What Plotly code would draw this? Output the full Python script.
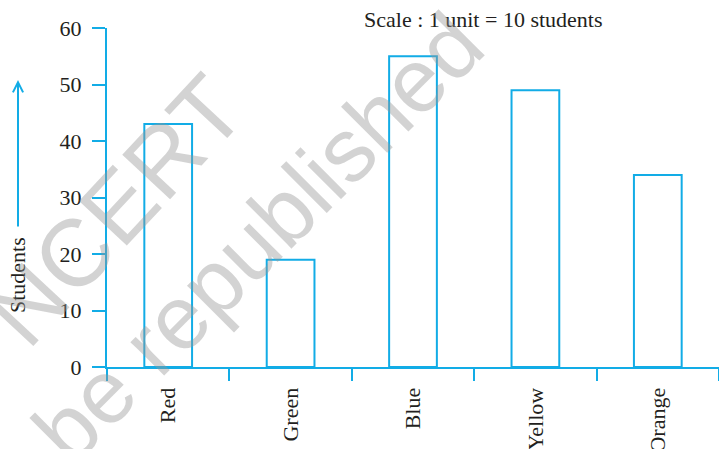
import plotly.graph_objects as go

colours = ["Red", "Green", "Blue", "Yellow", "Orange"]
students = [43, 19, 55, 49, 34]
y_ticks = [0, 10, 20, 30, 40, 50, 60]

BLUE = "#12ACE6"
SERIF = "Liberation Serif, Times New Roman, serif"
SANS = "Liberation Sans, Arial, sans-serif"
INK = "#231f20"

fig = go.Figure()
fig.add_trace(go.Bar(
    x=colours, y=students, width=0.39,
    marker=dict(color="white", line=dict(color=BLUE, width=2)),
    hoverinfo="x+y",
))

W, H = 719, 449
L, R, T, B = 107, 0, 28, 82
pw, ph = W - L - R, H - T - B

def px(xp):
    return (xp - L) / pw

def py(yp):
    return (H - B - yp) / ph

fig.update_layout(
    width=W, height=H,
    margin=dict(l=L, r=R, t=T, b=B, autoexpand=False),
    paper_bgcolor="white", plot_bgcolor="white",
    showlegend=False,
    font=dict(family=SERIF, color=INK),
    xaxis=dict(
        type="category", range=[-0.5, 4.5], automargin=False,
        showline=True, linecolor=BLUE, linewidth=2,
        ticks="outside", tickson="boundaries", ticklen=12, tickwidth=2, tickcolor=BLUE,
        tickangle=-90, tickfont=dict(family=SERIF, size=22, color=INK),
        ticklabelstandoff=10,
        showgrid=False, zeroline=False, fixedrange=True,
    ),
    yaxis=dict(
        range=[0, 60], tickvals=y_ticks, automargin=False,
        showline=True, linecolor=BLUE, linewidth=2,
        ticks="outside", ticklen=13, tickwidth=2, tickcolor=BLUE,
        tickfont=dict(family=SERIF, size=22, color=INK),
        ticklabelstandoff=6,
        showgrid=False, zeroline=False, fixedrange=True,
    ),
)

WM = "rgba(150,150,150,0.42)"
annotations = [
    dict(text="Scale : 1 unit = 10 students", xref="paper", yref="paper",
         x=px(483), y=py(20), xanchor="center", yanchor="middle", showarrow=False,
         font=dict(family=SERIF, size=22, color=INK)),
    dict(text="Students", xref="paper", yref="paper", x=px(17), y=py(275),
         xanchor="center", yanchor="middle",
         textangle=-90, showarrow=False,
         font=dict(family=SERIF, size=22, color=INK)),
    dict(text="", xref="paper", yref="paper", x=px(18), y=py(80),
         ax=0, ay=148, showarrow=True, arrowhead=5, arrowsize=1,
         arrowwidth=2, arrowcolor=BLUE),
    dict(text="NCERT", xref="paper", yref="paper", x=px(115), y=py(210),
         xanchor="center", yanchor="middle",
         textangle=-47, showarrow=False,
         font=dict(family=SANS, size=95, color=WM)),
    dict(text="be republished", xref="paper", yref="paper", x=px(258), y=py(238),
         xanchor="center", yanchor="middle",
         textangle=-45, showarrow=False,
         font=dict(family=SANS, size=90, color=WM)),
]
fig.update_layout(annotations=annotations)

fig.write_html(
    "out.html",
    config={"displayModeBar": False},
    post_script="document.body.style.margin='0';document.body.style.overflow='hidden';",
)
